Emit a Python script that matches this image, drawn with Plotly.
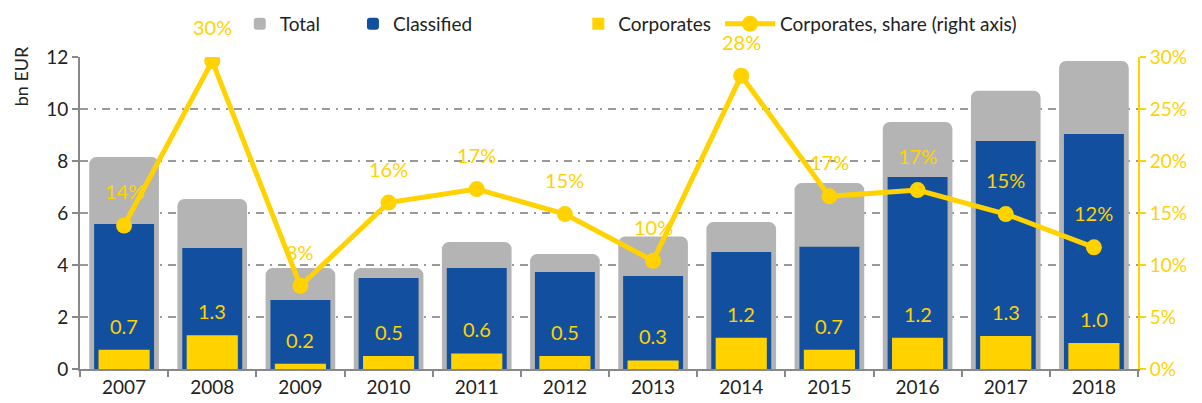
import plotly.graph_objects as go

years = ["2007", "2008", "2009", "2010", "2011", "2012", "2013", "2014", "2015", "2016", "2017", "2018"]
total = [8.15, 6.54, 3.88, 3.88, 4.88, 4.42, 5.1, 5.65, 7.15, 9.5, 10.7, 11.85]
classified = [5.58, 4.65, 2.65, 3.5, 3.88, 3.73, 3.58, 4.5, 4.7, 7.38, 8.77, 9.04]
corporates = [0.74, 1.3, 0.2, 0.5, 0.6, 0.5, 0.33, 1.2, 0.74, 1.2, 1.27, 1.0]
corp_labels = ["0.7", "1.3", "0.2", "0.5", "0.6", "0.5", "0.3", "1.2", "0.7", "1.2", "1.3", "1.0"]
share = [13.8, 29.6, 8.0, 16.0, 17.3, 14.9, 10.4, 28.2, 16.6, 17.2, 14.9, 11.7]
share_labels = ["14%", "30%", "8%", "16%", "17%", "15%", "10%", "28%", "17%", "17%", "15%", "12%"]
left_ticks = [0, 2, 4, 6, 8, 10, 12]
right_ticks = [0, 5, 10, 15, 20, 25, 30]
right_tick_text = ["0%", "5%", "10%", "15%", "20%", "25%", "30%"]

GREY = "#B4B4B4"
BLUE = "#12509F"
YELLOW = "#FFD200"
FONT = "Lato"

xpos = list(range(len(years)))

fig = go.Figure()
fig.add_trace(go.Bar(x=xpos, y=total, name="Total", width=0.79, legend="legend",
                     marker=dict(color=GREY, cornerradius=7, line=dict(width=0))))
fig.add_trace(go.Bar(x=xpos, y=classified, name="Classified", width=0.68, legend="legend2",
                     marker=dict(color=BLUE, cornerradius=5, line=dict(width=0))))
fig.add_trace(go.Bar(x=xpos, y=corporates, name="Corporates", width=0.58, legend="legend3",
                     marker=dict(color=YELLOW, line=dict(width=0))))
fig.add_trace(go.Scatter(x=xpos, y=share, name="Corporates, share (right axis)", yaxis="y2",
                         legend="legend4", mode="lines+markers", line=dict(color=YELLOW, width=5),
                         marker=dict(color=YELLOW, size=16)))

annotations = []
for xp, v, t in zip(xpos, corporates, corp_labels):
    annotations.append(dict(x=xp, y=v, xref="x", yref="y", text=t, showarrow=False,
                            yshift=24, font=dict(color=YELLOW, size=20, family=FONT)))
for xp, v, t in zip(xpos, share, share_labels):
    annotations.append(dict(x=xp, y=v, xref="x", yref="y2", text=t, showarrow=False,
                            yshift=34, font=dict(color=YELLOW, size=20, family=FONT)))
annotations.append(dict(xref="paper", yref="paper", x=-0.056, y=1.04, xanchor="center", yanchor="top",
                        text="bn EUR", textangle=-90, showarrow=False,
                        font=dict(color="#222", size=18, family=FONT)))

leg_common = dict(orientation="h", y=1.106, yanchor="middle", xanchor="left",
                  font=dict(size=19, color="#222"), bgcolor="rgba(0,0,0,0)")

fig.update_layout(
    width=1194, height=395,
    margin=dict(l=72, r=64, t=49, b=34, autoexpand=False),
    paper_bgcolor="white", plot_bgcolor="white",
    barmode="overlay",
    font=dict(family=FONT, size=19, color="#222"),
    showlegend=True,
    legend=dict(x=0.151, **leg_common),
    legend2=dict(x=0.258, **leg_common),
    legend3=dict(x=0.471, **leg_common),
    legend4=dict(x=0.605, itemwidth=50, **leg_common),
    xaxis=dict(range=[-0.5, len(years) - 0.5], tickvals=xpos, ticktext=years, ticks="",
               showline=True, linecolor="#888", linewidth=2, showgrid=False, zeroline=False,
               tickfont=dict(size=19, color="#222"),
               minor=dict(tick0=0.5, dtick=1, ticks="outside", ticklen=6, tickcolor="#888",
                          tickwidth=2, showgrid=False)),
    yaxis=dict(range=[0, 12], tickvals=left_ticks, showline=True, linecolor="#888", linewidth=2,
               ticks="outside", ticklen=6, tickcolor="#888", tickwidth=2,
               showgrid=True, gridcolor="#999999", griddash="8px,6px,2px,6px", gridwidth=2,
               zeroline=False, tickfont=dict(size=19, color="#222")),
    yaxis2=dict(range=[0, 30], tickvals=right_ticks, ticktext=right_tick_text, overlaying="y", side="right",
                showline=True, linecolor=YELLOW, linewidth=2, ticks="outside", ticklen=6,
                tickcolor=YELLOW, tickwidth=2, showgrid=False, zeroline=False,
                tickfont=dict(size=19, color=YELLOW)),
    annotations=annotations,
)

fig.write_html("out.html")
